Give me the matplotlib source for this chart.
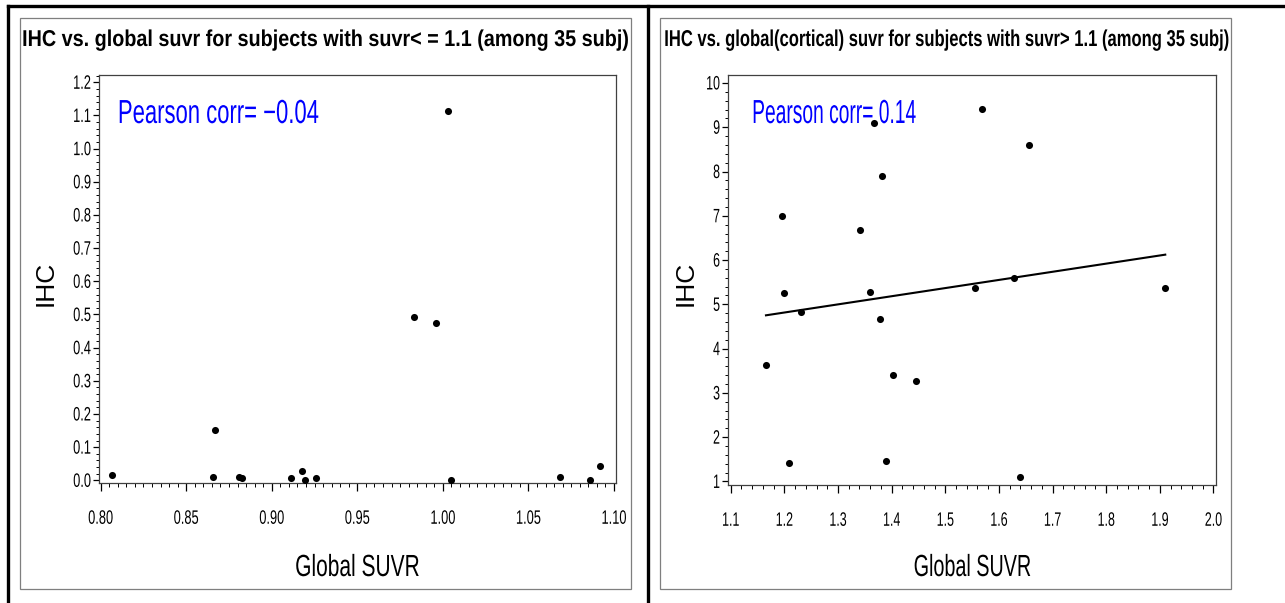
import numpy as np
import matplotlib
matplotlib.use("Agg")
import matplotlib.pyplot as plt
from matplotlib.ticker import FixedLocator, MultipleLocator
from matplotlib.patches import Rectangle
from matplotlib.lines import Line2D
from matplotlib.text import Text
from matplotlib.patheffects import AbstractPathEffect
from matplotlib.transforms import Affine2D, Bbox

# ---------------- data ----------------
suvr_low = [0.8065, 0.8655, 0.8666, 0.8811, 0.8826, 0.9114, 0.9177, 0.9192,
            0.9261, 0.9830, 0.9957, 1.0031, 1.0048, 1.0686, 1.0862, 1.0916]
ihc_low = [0.017, 0.011, 0.151, 0.009, 0.008, 0.008, 0.029, 0.002,
           0.006, 0.493, 0.474, 1.113, 0.002, 0.011, 0.002, 0.043]

suvr_high = [1.1658, 1.1963, 1.2003, 1.2083, 1.2302, 1.3413, 1.3599, 1.3679,
             1.3779, 1.3819, 1.3899, 1.4026, 1.4457, 1.5554, 1.5693, 1.6279,
             1.6391, 1.6563, 1.9101]
ihc_high = [3.62, 6.99, 5.25, 1.41, 4.82, 6.67, 5.29, 9.10,
            4.66, 7.90, 1.46, 3.41, 3.26, 5.37, 9.42, 5.59,
            1.09, 8.60, 5.36]

low_xticks = [0.80, 0.85, 0.90, 0.95, 1.00, 1.05, 1.10]
low_xticklabels = ["0.80", "0.85", "0.90", "0.95", "1.00", "1.05", "1.10"]
low_yticks = [0.0, 0.1, 0.2, 0.3, 0.4, 0.5, 0.6, 0.7, 0.8, 0.9, 1.0, 1.1, 1.2]
low_yticklabels = ["0.0", "0.1", "0.2", "0.3", "0.4", "0.5", "0.6", "0.7",
                   "0.8", "0.9", "1.0", "1.1", "1.2"]
high_xticks = [1.1, 1.2, 1.3, 1.4, 1.5, 1.6, 1.7, 1.8, 1.9, 2.0]
high_xticklabels = ["1.1", "1.2", "1.3", "1.4", "1.5", "1.6", "1.7", "1.8",
                    "1.9", "2.0"]
high_yticks = [1, 2, 3, 4, 5, 6, 7, 8, 9, 10]
high_yticklabels = ["1", "2", "3", "4", "5", "6", "7", "8", "9", "10"]

title_low = "IHC vs. global suvr for subjects with suvr< = 1.1 (among 35 subj)"
title_high = "IHC vs. global(cortical) suvr for subjects with suvr> 1.1 (among 35 subj)"
corr_low = "Pearson corr= \u22120.04"
corr_high = "Pearson corr= 0.14"
xlabel = "Global SUVR"
ylabel = "IHC"

# ---------------- narrow (condensed) text helpers ----------------
plt.rcParams["font.family"] = ["Liberation Sans", "DejaVu Sans"]


class HScale(AbstractPathEffect):
    """Compress glyph paths horizontally (SAS-like condensed font)."""

    def __init__(self, sx=1.0, mode="center"):
        super().__init__()
        self.sx = sx
        self.mode = mode

    def draw_path(self, renderer, gc, tpath, affine, rgbFace=None):
        ext = tpath.get_extents(affine)
        if self.mode == "left":
            x0 = ext.x0
        elif self.mode == "right":
            x0 = ext.x1
        else:
            x0 = 0.5 * (ext.x0 + ext.x1)
        aff = affine + Affine2D().translate(-x0, 0).scale(self.sx, 1.0).translate(x0, 0)
        renderer.draw_path(gc, tpath, aff, rgbFace)


class NarrowText(Text):
    def get_window_extent(self, renderer=None, dpi=None):
        bb = super().get_window_extent(renderer, dpi)
        hs = self._hs
        if hs.mode == "left":
            x0 = bb.x0
        elif hs.mode == "right":
            x0 = bb.x1
        else:
            x0 = 0.5 * (bb.x0 + bb.x1)
        return Bbox([[x0 + (bb.x0 - x0) * hs.sx, bb.y0],
                     [x0 + (bb.x1 - x0) * hs.sx, bb.y1]])


W, H = 1285, 603
fig = plt.figure(figsize=(W / 100, H / 100), dpi=100)
renderer = fig.canvas.get_renderer()


def fx(px):
    return px / W


def fy(py):
    return 1 - py / H


def narrow_fit(t, target_px, mode):
    natural = Text.get_window_extent(t, renderer).width
    t.__class__ = NarrowText
    t._hs = HScale(target_px / natural, mode)
    t.set_path_effects([t._hs])
    return t


def narrow_ticks(ax, sx):
    for lbl in ax.get_xticklabels():
        lbl.set_path_effects([HScale(sx, "center")])
    for lbl in ax.get_yticklabels():
        lbl.set_path_effects([HScale(sx, "right")])


# table lines and SAS graph borders
fig.add_artist(Line2D([fx(8), fx(1285)], [fy(6), fy(6)], color="black", lw=2.4))
fig.add_artist(Line2D([fx(8), fx(8)], [fy(6), fy(603)], color="black", lw=2.4))
fig.add_artist(Line2D([fx(648), fx(648)], [fy(6), fy(603)], color="black", lw=2.4))
for x0, x1 in [(20, 631), (660, 1231)]:
    fig.add_artist(Rectangle((fx(x0), fy(589)), fx(x1 - x0), (589 - 18) / H,
                             fill=False, edgecolor="#7f7f7f", lw=0.9))


def make_axes(left, right, top, bottom):
    ax = fig.add_axes([fx(left), fy(bottom), fx(right - left), (bottom - top) / H])
    for s in ax.spines.values():
        s.set_color("#404040")
        s.set_linewidth(0.9)
    ax.tick_params(axis="x", which="major", direction="out", length=6, width=0.9,
                   pad=14, labelsize=14, colors="black")
    ax.tick_params(axis="x", which="minor", direction="out", length=3, width=0.7)
    ax.tick_params(axis="y", which="major", direction="out", length=4, width=0.9,
                   pad=1.5, labelsize=14, colors="black")
    ax.tick_params(axis="y", which="minor", direction="out", length=2, width=0.7)
    return ax


# ---------------- left panel ----------------
axL = make_axes(99, 616, 75, 483)
axL.scatter(suvr_low, ihc_low, s=26, color="black", zorder=3, linewidths=0)
axL.set_xlim(0.799, 1.1012)
axL.set_ylim(-0.008, 1.222)
axL.xaxis.set_major_locator(FixedLocator(low_xticks))
axL.set_xticklabels(low_xticklabels)
axL.xaxis.set_minor_locator(MultipleLocator(0.005))
axL.yaxis.set_major_locator(FixedLocator(low_yticks))
axL.set_yticklabels(low_yticklabels)
axL.yaxis.set_minor_locator(MultipleLocator(0.02))
narrow_ticks(axL, 0.66)

# ---------------- right panel ----------------
axR = make_axes(728, 1216, 75, 485)
axR.scatter(suvr_high, ihc_high, s=26, color="black", zorder=3, linewidths=0)
slope, intercept = np.polyfit(suvr_high, ihc_high, 1)
xf = np.array([min(suvr_high), max(suvr_high)])
axR.plot(xf, intercept + slope * xf, color="black", lw=1.5, zorder=2)
axR.set_xlim(1.095, 2.0047)
axR.set_ylim(0.92, 10.18)
axR.xaxis.set_major_locator(FixedLocator(high_xticks))
axR.set_xticklabels(high_xticklabels)
axR.xaxis.set_minor_locator(MultipleLocator(0.02))
axR.yaxis.set_major_locator(FixedLocator(high_yticks))
axR.set_yticklabels(high_yticklabels)
axR.yaxis.set_minor_locator(MultipleLocator(0.2))
narrow_ticks(axR, 0.64)

# ---------------- texts ----------------
t = fig.text(fx(117), fy(123), corr_low, color="#0000ff", fontsize=24,
             ha="left", va="baseline")
narrow_fit(t, 201, "left")
t = fig.text(fx(751), fy(123), corr_high, color="#0000ff", fontsize=24,
             ha="left", va="baseline")
narrow_fit(t, 164, "left")

t = fig.text(fx(325), fy(46), title_low, fontsize=16.5, fontweight="bold",
             ha="center", va="baseline")
narrow_fit(t, 606, "center")
t = fig.text(fx(946), fy(46), title_high, fontsize=16.5, fontweight="bold",
             ha="center", va="baseline")
narrow_fit(t, 564, "center")

for cx, w in ((357, 124), (972, 117)):
    t = fig.text(fx(cx), fy(576), xlabel, fontsize=22, ha="center", va="baseline")
    narrow_fit(t, w, "center")
for cx in (46, 686):
    fig.text(fx(cx), fy(283), ylabel, fontsize=19, rotation=90,
             ha="center", va="center")

fig.savefig("out.png", dpi=100)
